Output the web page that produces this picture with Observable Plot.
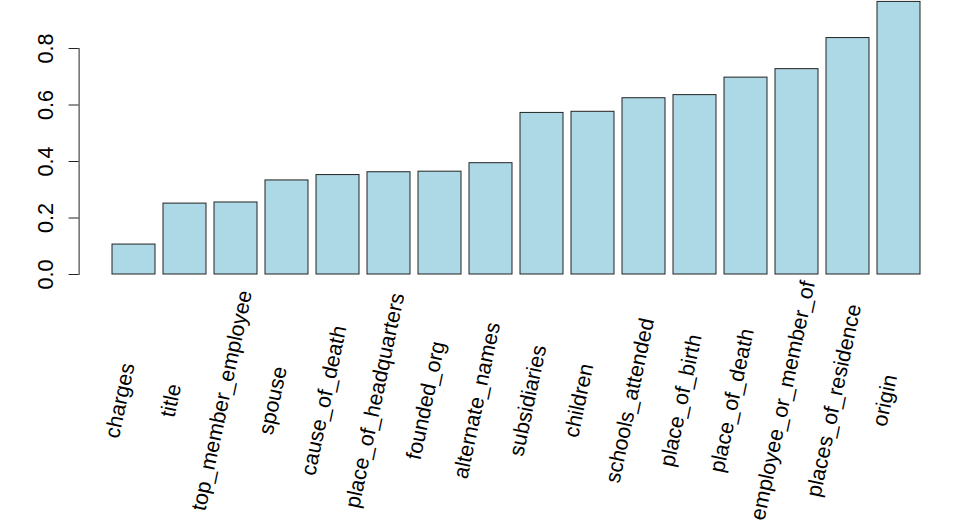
<!DOCTYPE html>
<html>
<head>
<meta charset="utf-8">
<script src="https://cdn.jsdelivr.net/npm/d3@7"></script>
<script src="https://cdn.jsdelivr.net/npm/@observablehq/plot@0.6"></script>
<style>
  html, body { margin: 0; padding: 0; background: #fff; }
  svg { display: block; }
</style>
</head>
<body>
<div id="chart"></div>
<script>
const names = ["charges","title","top_member_employee","spouse","cause_of_death","place_of_headquarters","founded_org","alternate_names","subsidiaries","children","schools_attended","place_of_birth","place_of_death","employee_or_member_of","places_of_residence","origin"];
const values = [0.106,0.251,0.255,0.333,0.352,0.362,0.364,0.394,0.572,0.576,0.624,0.635,0.697,0.727,0.837,0.965];
const yTicks = [0, 0.2, 0.4, 0.6, 0.8];

const data = names.map((n, i) => ({name: n, value: values[i]}));

const yMax = 0.97;
const marginBottom = 254;
const height = 528;
const innerH = height - marginBottom;
const axisTop = (1 - yTicks[yTicks.length - 1] / yMax) * innerH;

const chart = Plot.plot({
  width: 954,
  height,
  marginLeft: 78.6,
  marginRight: 1.6,
  marginTop: 0,
  marginBottom,
  style: {fontFamily: "'Liberation Sans', Arial, Helvetica, sans-serif", background: "#fff", color: "#000", overflow: "visible"},
  x: {type: "band", domain: names, paddingInner: 1/6, paddingOuter: 0.76/1.2, axis: null},
  y: {domain: [0, yMax], label: null},
  marks: [
    Plot.barY(data, {x: "name", y: "value", fill: "#ADD8E6", stroke: "#222", strokeWidth: 1}),
    Plot.frame({anchor: "left", insetTop: axisTop, stroke: "#222"}),
    Plot.axisY({ticks: yTicks, tickSize: 10, tickFormat: () => "", label: null, stroke: "#222"}),
    Plot.text(yTicks, {y: d => d, text: d => d3.format(".1f")(d), frameAnchor: "left", dx: -33, rotate: -90, textAnchor: "middle", lineAnchor: "middle", fontSize: 21.6, fill: "#000"}),
    Plot.text(data, {x: "name", text: "name", frameAnchor: "bottom", dy: 126, dx: -14, rotate: -78, textAnchor: "middle", lineAnchor: "middle", fontSize: 21.4, fill: "#000"})
  ]
});
document.getElementById("chart").appendChild(chart);
</script>
</body>
</html>
